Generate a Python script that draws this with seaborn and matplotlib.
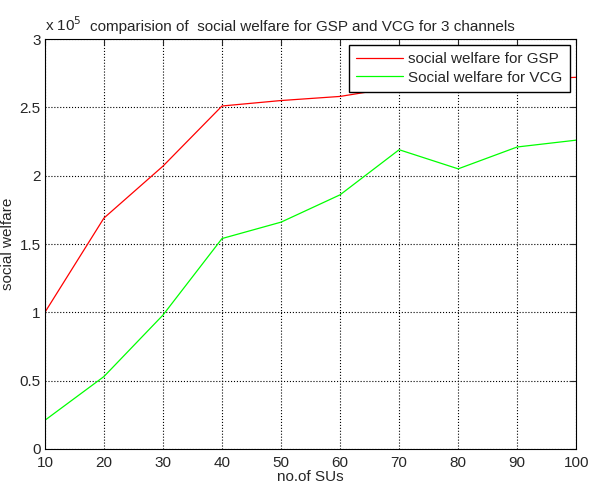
import numpy as np
import pandas as pd
from matplotlib import pyplot as plt
from matplotlib.ticker import FuncFormatter
import seaborn as sns

n_sus = [10, 20, 30, 40, 50, 60, 70, 80, 90, 100]
welfare_gsp = [1.00e5, 1.69e5, 2.07e5, 2.51e5, 2.55e5, 2.58e5, 2.65e5, 2.68e5, 2.70e5, 2.72e5]
welfare_vcg = [0.21e5, 0.53e5, 0.98e5, 1.54e5, 1.66e5, 1.86e5, 2.19e5, 2.05e5, 2.21e5, 2.26e5]
series_names = ['social welfare for GSP', 'Social welfare for VCG']

df = pd.DataFrame({
    'n': n_sus * 2,
    'welfare': welfare_gsp + welfare_vcg,
    'series': [series_names[0]] * len(n_sus) + [series_names[1]] * len(n_sus),
})

sns.set_style('white')
plt.rcParams['font.family'] = ['Liberation Sans', 'DejaVu Sans']

fig = plt.figure(figsize=(5.91, 4.88), dpi=100)
ax = fig.add_axes([0.076, 0.08, 0.899, 0.84])
sns.lineplot(data=df, x='n', y='welfare', hue='series',
             palette={series_names[0]: '#ff0000', series_names[1]: '#00ff00'},
             linewidth=0.9, ax=ax)

ax.set_xlim(10, 100)
ax.set_ylim(0, 3e5)
ax.set_xticks(n_sus)
ax.set_yticks(np.arange(0, 3.01e5, 0.5e5))
ax.yaxis.set_major_formatter(FuncFormatter(lambda v, p: '%g' % (v / 1e5)))
ax.grid(True, color='black', linestyle=':', linewidth=0.8)
ax.tick_params(direction='in', length=4, labelsize=11, top=True, right=True,
               labeltop=False, labelright=False)
ax.tick_params(axis='x', pad=5)
ax.tick_params(axis='y', pad=3)
for s in ax.spines.values():
    s.set_color('black')
    s.set_linewidth(0.8)

ax.set_xlabel('no.of SUs', fontsize=11, labelpad=0)
ax.set_ylabel('social welfare', fontsize=11, labelpad=3)
ax.text(0.0, 1.012, 'x 10$^5$', transform=ax.transAxes, fontsize=11, ha='left', va='bottom')
ax.set_title('comparision of  social welfare for GSP and VCG for 3 channels',
             fontsize=11, x=0.484, pad=6)

leg = ax.legend(loc='upper right', bbox_to_anchor=(0.9875, 0.985), fontsize=11,
                frameon=True, fancybox=False, framealpha=1, borderaxespad=0,
                borderpad=0.45, handlelength=3.1, handletextpad=0.35,
                labelspacing=0.3)
leg.get_frame().set_edgecolor('black')
leg.get_frame().set_linewidth(1.0)

fig.savefig('out.png', dpi=100)
